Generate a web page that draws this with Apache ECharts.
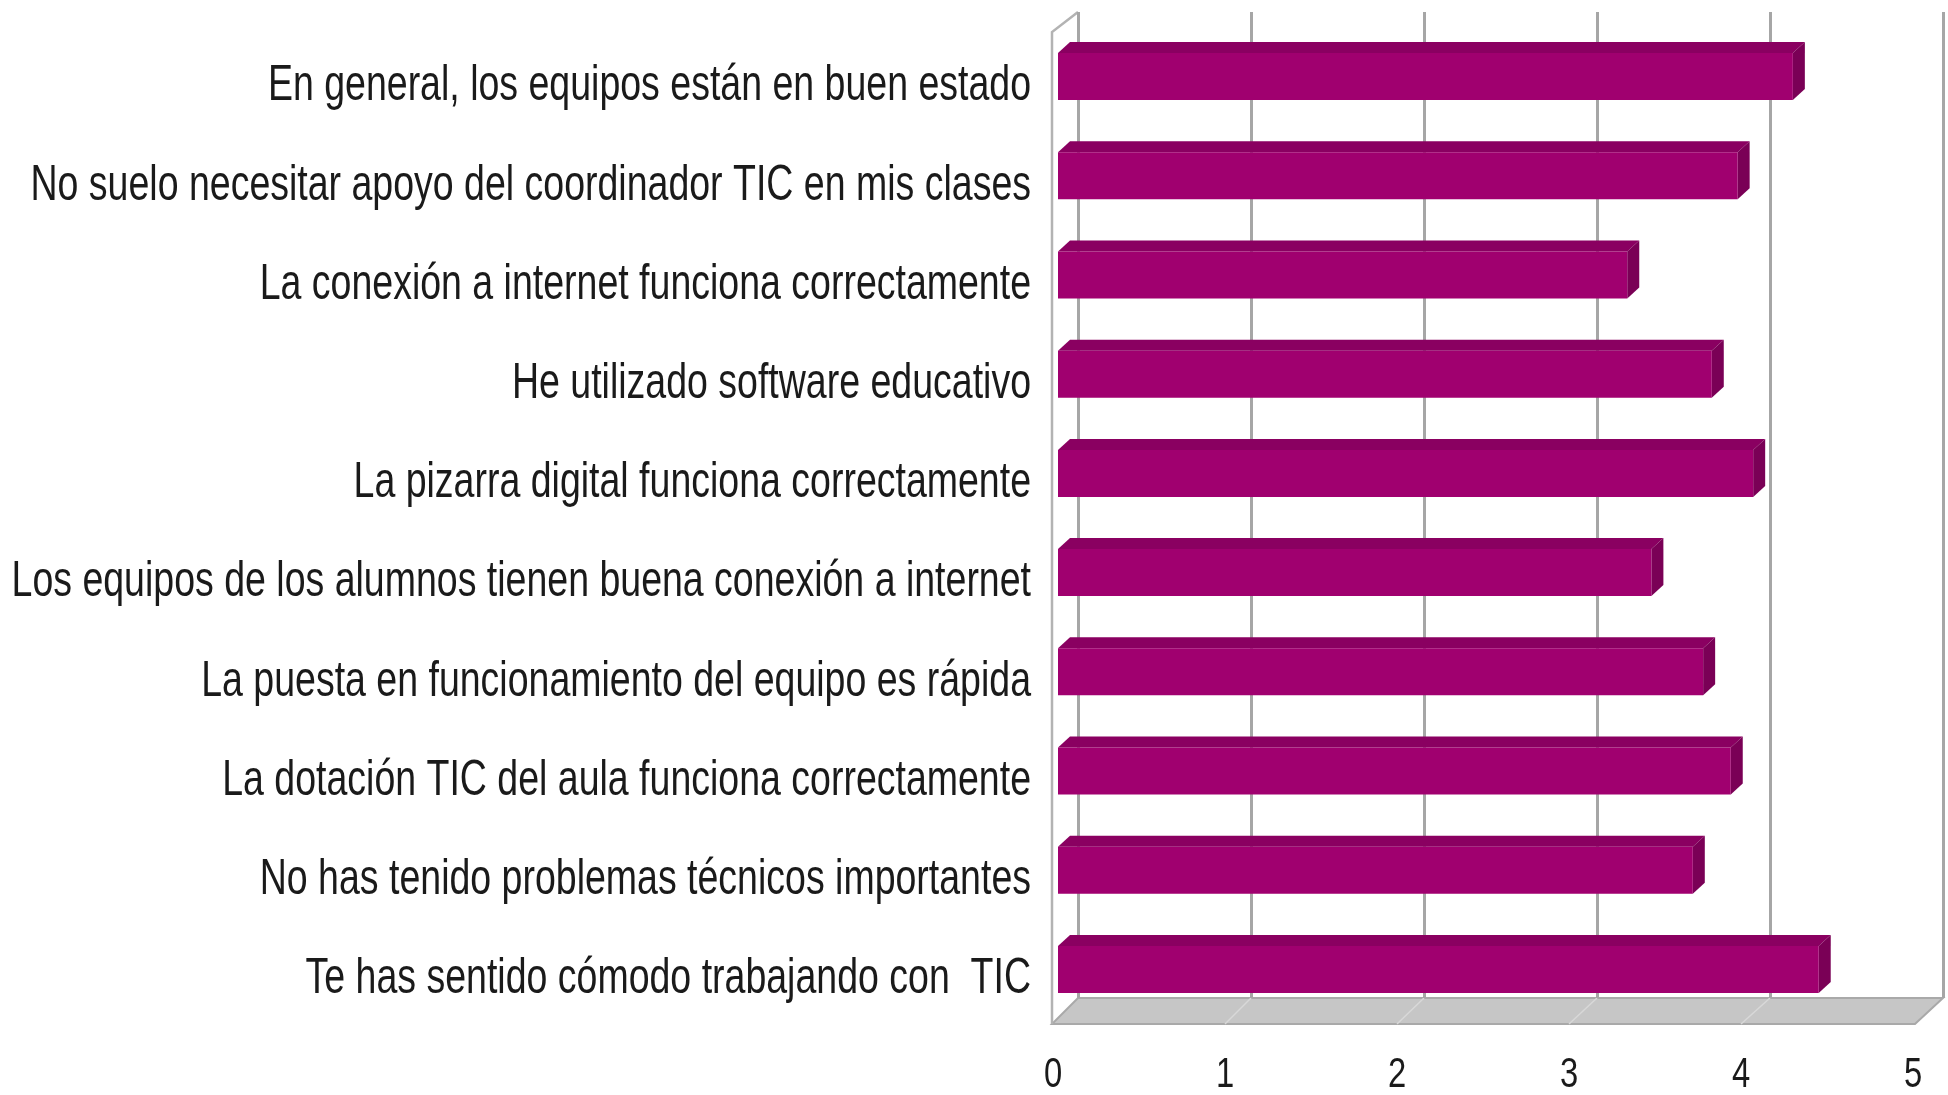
<!DOCTYPE html>
<html>
<head>
<meta charset="utf-8">
<script src="https://cdn.jsdelivr.net/npm/echarts@6/dist/echarts.min.js"></script>
<style>
html,body{margin:0;padding:0;background:#fff;}
#main{width:1948px;height:1095px;}
</style>
</head>
<body>
<div id="main"></div>
<script>
// datos
var categories = [
    'En general, los equipos están en buen estado',
    'No suelo necesitar apoyo del coordinador TIC en mis clases',
    'La conexión a internet funciona correctamente',
    'He utilizado software educativo',
    'La pizarra digital funciona correctamente',
    'Los equipos de los alumnos tienen buena conexión a internet',
    'La puesta en funcionamiento del equipo es rápida',
    'La dotación TIC del aula funciona correctamente',
    'No has tenido problemas técnicos importantes',
    'Te has sentido cómodo trabajando con  TIC'
];
var values = [4.26, 3.94, 3.30, 3.79, 4.03, 3.44, 3.74, 3.90, 3.68, 4.41];
var tickLabels = ['0', '1', '2', '3', '4', '5'];

// estilo
var fontFamily = "'Liberation Sans',Arial,sans-serif";
var textColor = '#1a1a1a';
var barFront = '#a0006f', barTop = '#8a0061', barSide = '#7a0056';
var depthX = 12, depthY = -11;

// barra 3D
var renderBar = function(params, api){
    var v = api.value(0), c = api.value(1);
    var p0 = api.coord([0, c]);
    var p1 = api.coord([v, c]);
    var h = api.size([0, 1])[1] * 0.474;
    var top = p0[1] - h / 2, bottom = p0[1] + h / 2;
    var x0 = p0[0], x1 = p1[0];
    return {
        type: 'group',
        children: [
            {type: 'polygon', shape: {points: [[x0, top], [x1, top], [x1 + depthX, top + depthY], [x0 + depthX, top + depthY]]}, style: {fill: barTop}},
            {type: 'polygon', shape: {points: [[x1, top], [x1 + depthX, top + depthY], [x1 + depthX, bottom + depthY], [x1, bottom]]}, style: {fill: barSide}},
            {type: 'rect', shape: {x: x0, y: top, width: x1 - x0, height: h}, style: {fill: barFront}}
        ]
    };
};

// etiquetas de categoria (texto estrecho, tipo Arial Narrow)
var renderCatLabel = function(params, api){
    var p = api.coord([0, api.value(1)]);
    return {
        type: 'text', x: p[0] - 27, y: p[1] + 10, scaleX: 0.75,
        style: {text: categories[params.dataIndex], x: 0, y: 0, align: 'right', verticalAlign: 'middle',
                font: '50px ' + fontFamily, fill: textColor}
    };
};

// etiquetas del eje de valores
var renderTickLabel = function(params, api){
    var p = api.coord([api.value(0), 0]);
    return {
        type: 'text', x: p[0], y: p[1] + 51, scaleX: 0.78,
        style: {text: tickLabels[params.dataIndex], x: 0, y: 0, align: 'center', verticalAlign: 'middle',
                font: '42px ' + fontFamily, fill: textColor}
    };
};

var option = {
    backgroundColor: '#fff',
    animation: false,
    grid: [
        {left: 1058, top: 27, width: 862.5, height: 992, outerBoundsMode: 'none', containLabel: false},   // barras
        {left: 1078, top: 12, width: 865, height: 986, outerBoundsMode: 'none', containLabel: false},     // pared del fondo
        {left: 1053, top: 1023, width: 860, height: 1, outerBoundsMode: 'none', containLabel: false}      // eje frontal
    ],
    xAxis: [
        {gridIndex: 0, type: 'value', min: 0, max: 5, interval: 1, show: false},
        {
            gridIndex: 1, type: 'value', min: 0, max: 5, interval: 1,
            axisLine: {show: false}, axisTick: {show: false}, axisLabel: {show: false},
            splitLine: {show: true, lineStyle: {color: '#a6a6a6', width: 3}}
        },
        {gridIndex: 2, type: 'value', min: 0, max: 5, interval: 1, show: false}
    ],
    yAxis: [
        {gridIndex: 0, type: 'category', data: categories, inverse: true, show: false},
        {gridIndex: 1, type: 'value', show: false},
        {gridIndex: 2, type: 'value', min: 0, max: 1, show: false}
    ],
    series: [
        {
            type: 'custom', xAxisIndex: 0, yAxisIndex: 0,
            renderItem: renderBar,
            encode: {x: 0, y: 1},
            data: values.map(function(v, i){ return [v, i]; }),
            z: 5
        },
        {
            type: 'custom', xAxisIndex: 0, yAxisIndex: 0,
            renderItem: renderCatLabel,
            encode: {x: 0, y: 1},
            data: categories.map(function(c, i){ return [0, i]; }),
            silent: true, z: 6
        },
        {
            type: 'custom', xAxisIndex: 2, yAxisIndex: 2,
            renderItem: renderTickLabel,
            encode: {x: 0, y: 1},
            data: tickLabels.map(function(t){ return [Number(t), 0]; }),
            silent: true, z: 6
        }
    ]
};

var chart = echarts.init(document.getElementById('main'));
chart.setOption(option);

// suelo y pared lateral
var backY = 998, frontY = 1024;
var graphics = [];
var bx = [], fx = [];
for (var t = 0; t <= 5; t++) {
    bx.push(chart.convertToPixel({xAxisIndex: 1}, t));
    fx.push(chart.convertToPixel({xAxisIndex: 2}, t));
}
graphics.push({
    type: 'polygon', z: -1,
    shape: {points: [[fx[0] - 1, frontY], [fx[5] + 2, frontY], [bx[5], backY], [bx[0], backY]]},
    style: {fill: '#c6c6c6', stroke: '#a9a9a9', lineWidth: 2}
});
for (var k = 1; k < 5; k++) {
    graphics.push({
        type: 'line', z: -1,
        shape: {x1: bx[k], y1: backY, x2: fx[k], y2: frontY},
        style: {stroke: '#d8d8d8', lineWidth: 1.5}
    });
}
graphics.push({
    type: 'polyline', z: -1,
    shape: {points: [[fx[0] - 1, frontY], [fx[0] - 1, 32], [bx[0], 12]]},
    style: {stroke: '#b3b3b3', lineWidth: 2.5, fill: null}
});
chart.setOption({graphic: graphics});
</script>
</body>
</html>
